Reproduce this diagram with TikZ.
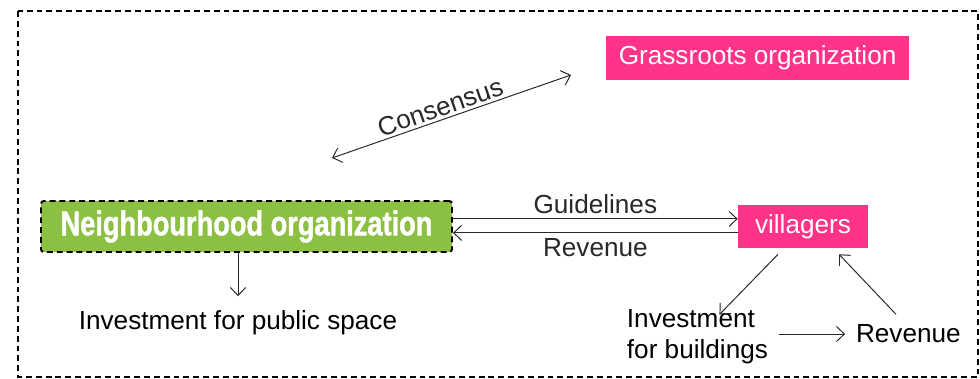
\documentclass[tikz,border=0pt]{standalone}
\usepackage{fontspec}
\setmainfont{Liberation Sans}
\newfontfamily\condfont{Liberation Sans Bold}[FakeStretch=0.79, FakeBold=1.2]
\usetikzlibrary{arrows.meta, positioning, calc}
\definecolor{hotpink}{RGB}{255, 51, 136}
\definecolor{leafgreen}{RGB}{140, 192, 66}
\definecolor{inkgray}{RGB}{40, 40, 40}

\begin{document}
\begin{tikzpicture}[
    font=\fontsize{18.6}{22.5}\selectfont,
    pinkbox/.style={rectangle, fill=hotpink, text=white, minimum height=1.1cm, align=center},
    orgbox/.style={rectangle, rounded corners=2pt, draw=black, line width=1.4pt, dash pattern=on 4.2pt off 2.8pt, fill=leafgreen, text=white, minimum width=10.275cm, minimum height=1.275cm, font=\condfont\fontsize{24.5}{28}\selectfont},
    lbl/.style={align=left},
    arr/.style={-{Straight Barb[length=0.2cm, width=0.38cm]}, line width=0.7pt, inkgray},
    darr/.style={{Straight Barb[length=0.2cm, width=0.38cm]}-{Straight Barb[length=0.2cm, width=0.38cm]}, line width=0.7pt, inkgray},
    outerframe/.style={draw=black, line width=1.4pt, dash pattern=on 4.2pt off 2.8pt},
]
\useasboundingbox (0,0) rectangle (24.5,9.475);
\draw[outerframe] (0.45,9.2) rectangle (24.45,0.05);

\node[pinkbox, minimum width=7.575cm] (grass) at (18.94,8.025) {Grassroots organization};
\node[orgbox] (neigh) at (6.1625,3.8125) {Neighbourhood organization};
\node[pinkbox, minimum width=3.25cm, minimum height=1.075cm] (vill) at (20.075,3.8125) {villagers};

\node (pubinv) at (5.95,1.4) {Investment for public space};
\node[lbl, anchor=west] (bldinv) at (15.55,1.06) {Investment\\for buildings};
\node (rev) at (22.71,1.125) {Revenue};

% consensus between the two organizations
\coordinate (consL) at (8.3,5.525);
\coordinate (consR) at (14.275,7.6);
\draw[darr] (consL) -- node[sloped, above, inner sep=2pt, pos=0.47] {Consensus} (consR);

\draw[arr] ([yshift=0.19cm]neigh.east) -- node[above] {Guidelines} ([yshift=0.19cm]vill.west);
\draw[arr] ([yshift=-0.16cm]vill.west) -- node[below] {Revenue} ([yshift=-0.16cm]neigh.east);
\draw[arr, shorten >=0.24cm] (neigh.south -| pubinv) -- (pubinv.north);

% villagers cycle
\draw[arr] ([shift={(-0.625,-0.15)}]vill.south) -- ([shift={(0.55,-0.26)}]bldinv.north);
\draw[arr, shorten <=0.15cm, shorten >=0.15cm] (bldinv.east |- rev.west) -- (rev.west);
\draw[arr] ([shift={(-0.31,0.14)}]rev.north) -- ([shift={(0.9,-0.15)}]vill.south);

\end{tikzpicture}
\end{document}
